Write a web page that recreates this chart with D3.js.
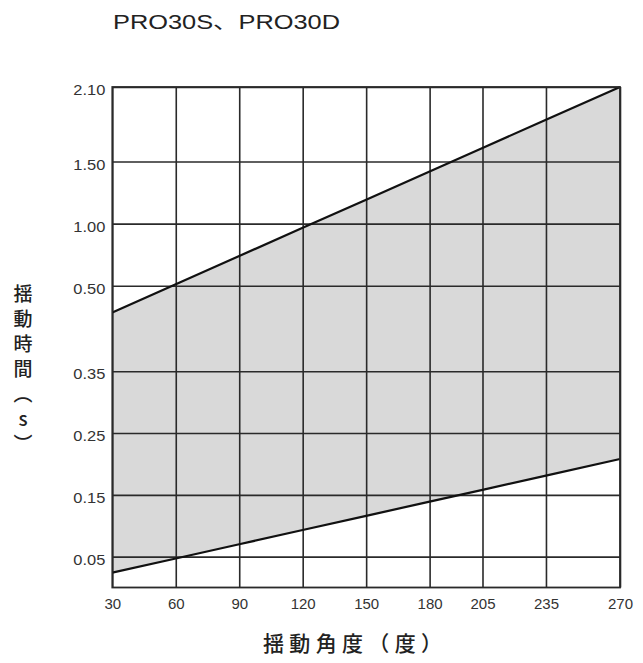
<!DOCTYPE html>
<html>
<head>
<meta charset="utf-8">
<script src="https://cdn.jsdelivr.net/npm/d3@7/dist/d3.min.js"></script>
<style>
  html, body { margin: 0; padding: 0; background: #fff; }
  svg { display: block; }
</style>
</head>
<body>
<svg id="chart" width="643" height="663"></svg>
<script>
// ---- data ----
const title = "PRO30S、PRO30D";
const xLabel = "揺動角度（度）";
const yLabel = "揺動時間（s）";
const angles = [30, 60, 90, 120, 150, 180, 205, 235, 270];
const yTicks = [0.05, 0.15, 0.25, 0.35, 0.50, 1.00, 1.50, 2.10];
// upper boundary (slow limit) and lower boundary (fast limit), seconds
const upperTime = [0.453, 0.512, 0.739, 0.966, 1.192, 1.420, 1.609, 1.836, 2.10];
const lowerTime = [0.024, 0.047, 0.070, 0.093, 0.116, 0.139, 0.158, 0.181, 0.208];
// y-axis is drawn with uneven spacing: breakpoints of the piecewise scale
const yBreaks = [0, 0.35, 0.50, 2.10];
const yBreakFrac = [0, 0.432, 0.603, 1];

// ---- layout ----
const svg = d3.select("#chart");
const L = 112.3, R = 620, T = 87, B = 587.5;
const W = R - L, H = B - T;

const x = d3.scaleLinear().domain([30, 270]).range([L, R]);
const y = d3.scaleLinear().domain(yBreaks).range(yBreakFrac.map(f => B - f * H));

const rows = angles.map((a, i) => ({a, lo: lowerTime[i], hi: upperTime[i]}));

// shaded band
svg.append("path")
  .datum(rows)
  .attr("fill", "#d9d9d9")
  .attr("d", d3.area().x(d => x(d.a)).y0(d => y(d.lo)).y1(d => y(d.hi)));

const tickFont = "'Liberation Sans', Arial, sans-serif";

// y axis + horizontal gridlines
const gy = svg.append("g")
  .attr("transform", `translate(${L},0)`)
  .call(d3.axisLeft(y).tickValues(yTicks).tickFormat(d3.format(".2f"))
        .tickSize(-W).tickPadding(7));
gy.select(".domain").remove();
gy.selectAll(".tick line").attr("stroke", "#2a2a2a").attr("stroke-width", 1.6);
gy.selectAll(".tick text")
  .attr("font-family", tickFont).attr("font-size", 15).attr("fill", "#333")
  .attr("dy", "0.5em").attr("textLength", 32).attr("lengthAdjust", "spacingAndGlyphs");

// x axis + vertical gridlines
const gx = svg.append("g")
  .attr("transform", `translate(0,${B})`)
  .call(d3.axisBottom(x).tickValues(angles).tickFormat(d3.format("d"))
        .tickSize(-H).tickPadding(11));
gx.select(".domain").remove();
gx.selectAll(".tick line").attr("stroke", "#2a2a2a").attr("stroke-width", 1.6);
gx.selectAll(".tick text")
  .attr("font-family", tickFont).attr("font-size", 15).attr("fill", "#333");

// boundary lines
const line = key => d3.line().x(d => x(d.a)).y(d => y(d[key]));
["hi", "lo"].forEach(k => {
  svg.append("path").datum(rows)
    .attr("fill", "none").attr("stroke", "#111").attr("stroke-width", 2.2)
    .attr("d", line(k));
});

// frame
svg.append("rect")
  .attr("x", L).attr("y", T).attr("width", W).attr("height", H)
  .attr("fill", "none").attr("stroke", "#2a2a2a").attr("stroke-width", 1.8);

// title
svg.append("text")
  .attr("x", 113).attr("y", 29)
  .attr("font-family", "'Liberation Sans', 'Noto Sans CJK JP', sans-serif")
  .attr("font-size", 20).attr("fill", "#222")
  .attr("textLength", 227).attr("lengthAdjust", "spacingAndGlyphs")
  .text(title);

const cjk = "'Noto Sans CJK JP', sans-serif";
// x label
svg.append("text")
  .attr("x", 263).attr("y", 651)
  .attr("font-family", cjk).attr("font-size", 21).attr("font-weight", 500).attr("fill", "#222")
  .attr("textLength", 179).attr("lengthAdjust", "spacing")
  .text(xLabel);

// y label (vertical)
svg.append("text")
  .attr("x", 23).attr("y", 284)
  .attr("font-family", cjk).attr("font-size", 19).attr("font-weight", 500).attr("fill", "#222")
  .style("writing-mode", "vertical-rl")
  .style("text-orientation", "upright")
  .style("letter-spacing", "6px")
  .text(yLabel);
</script>
</body>
</html>
